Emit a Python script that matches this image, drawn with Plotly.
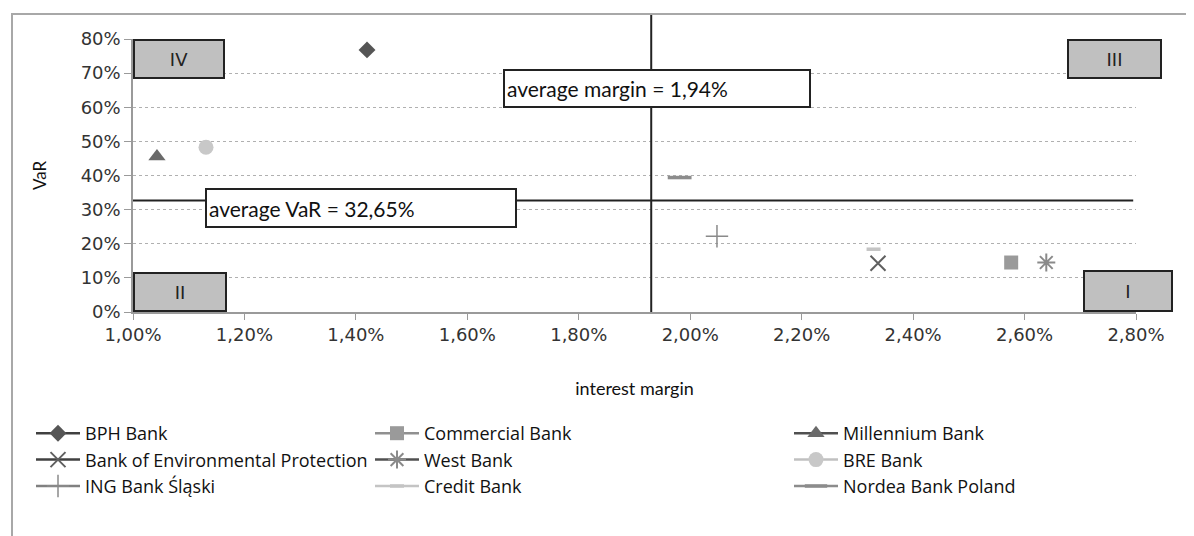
import plotly.graph_objects as go

# ---- data ----
banks = ["BPH Bank", "Commercial Bank", "Millennium Bank",
         "Bank of Environmental Protection", "West Bank", "BRE Bank",
         "ING Bank Śląski", "Credit Bank", "Nordea Bank Poland"]
margin = [0.0142, 0.02576, 0.01043, 0.02337, 0.02639, 0.01131, 0.02048, 0.02329, 0.01981]
var = [0.768, 0.145, 0.456, 0.143, 0.145, 0.483, 0.222, 0.184, 0.394]
symbols = ["diamond", "square", "triangle-up", "x-thin-open", "asterisk-open",
           "circle", "cross-thin-open", "line-ew-open", "line-ew-open"]
marker_colors = ["#555555", "#9a9a9a", "#6a6a6a", "#606060", "#8a8a8a",
                 "#c8c8c8", "#8a8a8a", "#c4c4c4", "#8c8c8c"]
line_colors = ["#404040", "#909090", "#505050", "#404040", "#505050",
               "#c0c0c0", "#808080", "#c4c4c4", "#8c8c8c"]
marker_sizes = [13, 14, 15, 15, 15, 15, 16, 10, 17]
legend_ids = ["legend", "legend2", "legend3", "legend", "legend2", "legend3",
              "legend", "legend2", "legend3"]

avg_margin = 0.0193
avg_margin_label = "average margin = 1,94%"
avg_var = 0.3265
avg_var_label = "average VaR = 32,65%"

x_range = [0.01, 0.028]
y_range = [0, 0.8]
x_ticks = [0.010, 0.012, 0.014, 0.016, 0.018, 0.020, 0.022, 0.024, 0.026, 0.028]
y_ticks = [0, 0.1, 0.2, 0.3, 0.4, 0.5, 0.6, 0.7, 0.8]

fig = go.Figure()
for i, b in enumerate(banks):
    sym = symbols[i]
    lw = 2 if sym in ("x-thin-open", "asterisk-open") else (1.5 if sym == "cross-thin-open" else (3.5 if sym == "line-ew-open" else 0))
    fig.add_trace(go.Scatter(
        x=[margin[i]], y=[var[i]], name=b, mode="lines+markers",
        line=dict(color=line_colors[i], width=2.5),
        marker=dict(symbol=sym, size=marker_sizes[i], color=marker_colors[i],
                    line=dict(color=marker_colors[i], width=lw)),
        legend=legend_ids[i], showlegend=True, cliponaxis=False))

OFF = 8  # page body offset in the browser
W, H = 1194 - OFF, 536 - OFF
L, R, T, B = 133 - OFF, 58, 39 - OFF, 224
pw, ph = W - L - R, H - T - B


def px(xp):
    return (xp - OFF - L) / pw


def py(yp):
    return (H - B - (yp - OFF)) / ph


legend_font = dict(family="Open Sans", size=18, color="#111111")
common_leg = dict(font=legend_font, bgcolor="rgba(0,0,0,0)", itemwidth=44,
                  yanchor="top", xanchor="left", orientation="v", tracegroupgap=0,
                  traceorder="normal")
shapes = [
    # chart frame
    dict(type="rect", xref="paper", yref="paper", x0=px(12), x1=px(1210),
         y0=py(600), y1=py(14), line=dict(color="#a8a8a8", width=2), layer="below"),
    # average margin vertical line
    dict(type="line", xref="x", yref="paper", x0=avg_margin, x1=avg_margin,
         y0=0, y1=py(15), line=dict(color="#222222", width=2)),
    # average VaR horizontal line
    dict(type="line", xref="x", yref="y", x0=x_range[0], x1=0.02795,
         y0=avg_var, y1=avg_var, line=dict(color="#222222", width=2)),
]

annots = []
box_font = dict(family="Lato", size=21, color="#111111")
annots.append(dict(xref="paper", yref="paper", x=px(503), y=py(69), xanchor="left",
                   yanchor="top", text=avg_margin_label, showarrow=False, align="left",
                   width=300, height=31, bgcolor="white", bordercolor="#222222",
                   borderwidth=2, borderpad=2, font=box_font))
annots.append(dict(xref="paper", yref="paper", x=px(205), y=py(188), xanchor="left",
                   yanchor="top", text=avg_var_label, showarrow=False, align="left",
                   width=304, height=32, bgcolor="white", bordercolor="#222222",
                   borderwidth=2, borderpad=2, font=box_font))
quad_font = dict(family="DejaVu Sans", size=18, color="#222222")
for label, x0, x1, y0, y1 in [("IV", 133, 225, 39, 79), ("III", 1067, 1162, 39, 79),
                              ("II", 133, 227, 272, 312), ("I", 1083, 1173, 270, 312)]:
    annots.append(dict(xref="paper", yref="paper", x=px(x0), y=py(y0), xanchor="left",
                       yanchor="top", text=label, showarrow=False, align="center",
                       width=x1 - x0 - 4, height=y1 - y0 - 4, bgcolor="#c0c0c0",
                       bordercolor="#222222", borderwidth=2, borderpad=0, font=quad_font))

fig.update_layout(
    width=W, height=H, margin=dict(l=L, r=R, t=T, b=B),
    paper_bgcolor="white", plot_bgcolor="white",
    separators=", ",
    xaxis=dict(range=x_range, tickvals=x_ticks, tickformat=".2%",
               showgrid=False, zeroline=False, showline=True, linecolor="#9a9a9a",
               linewidth=1.5, ticks="outside", ticklen=6, tickcolor="#9a9a9a",
               tickfont=dict(family="DejaVu Sans", size=18, color="#333333"),
               title=dict(text="interest margin", font=dict(family="Lato", size=18, color="#111111"),
                          standoff=38)),
    yaxis=dict(range=y_range, tickvals=y_ticks, tickformat=".0%",
               showgrid=True, gridcolor="#b0b0b0", griddash="dot", gridwidth=1,
               zeroline=False, showline=True, linecolor="#9a9a9a", linewidth=1.5,
               ticks="outside", ticklen=7, tickcolor="#9a9a9a",
               tickfont=dict(family="DejaVu Sans", size=18, color="#333333"),
               title=dict(text="VaR", font=dict(family="Lato", size=17, color="#111111"),
                          standoff=30)),
    legend=dict(x=px(31), y=py(415), **common_leg),
    legend2=dict(x=px(370), y=py(415), **common_leg),
    legend3=dict(x=px(789), y=py(415), **common_leg),
    shapes=shapes, annotations=annots,
)

fig.write_html("out.html")
